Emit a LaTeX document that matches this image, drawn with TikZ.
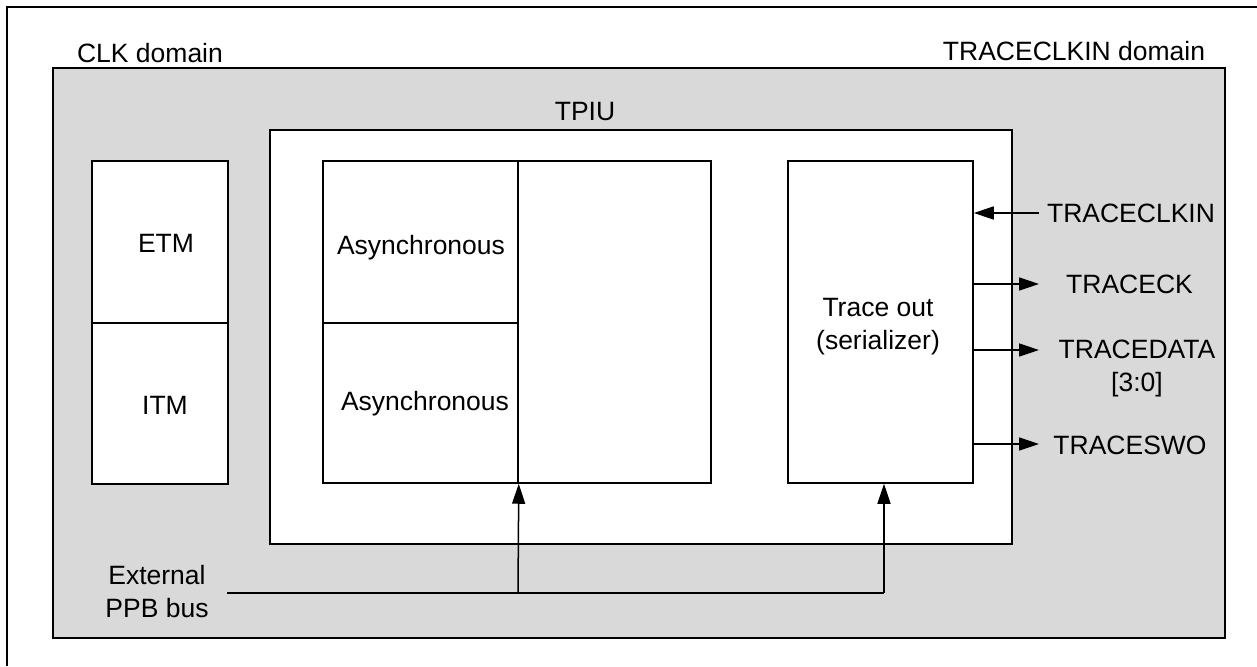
\documentclass[tikz,border=0pt]{standalone}
\usepackage{fontspec}
\setmainfont{Liberation Sans}
\usetikzlibrary{arrows.meta}
\definecolor{domgray}{HTML}{D9D9D9}
\tikzset{
  box/.style={draw, line width=1.5pt, fill=white, inner sep=0pt, minimum width=#1},
  lbl/.style={inner sep=0pt, align=center, font=\fontsize{26.5}{33}\selectfont},
  sig/.style={line width=1.5pt, -{Triangle[length=20pt,width=13pt]}},
  wire/.style={line width=1.5pt}
}
\begin{document}
\begin{tikzpicture}[x=1pt,y=-1pt]
\useasboundingbox (0,0) rectangle (1257,666);
\draw[wire] (7,666) -- (7,7) -- (1257,7);
% clock domain region
\node[box=1172pt, fill=domgray, minimum height=570pt] (dom) at (639,353) {};
\node[lbl] (clkdom) at (150,53) {CLK domain};
\node[lbl] (tcdom) at (1074,51) {TRACECLKIN domain};
% TPIU
\node[box=742pt, minimum height=414pt] (tpiu) at (641,337) {};
\node[lbl] (tpiulbl) at (585,112) {TPIU};
% ETM / ITM
\node[box=136pt, minimum height=162pt] (etm) at (160,242) {};
\node[box=136pt, minimum height=161pt] (itm) at (160,403.5) {};
\node[lbl] at (166,243) {ETM};
\node[lbl] at (165,405) {ITM};
% asynchronous blocks
\node[box=195pt, minimum height=162pt] (as1) at (420.5,242) {};
\node[box=195pt, minimum height=160pt] (as2) at (420.5,403) {};
\node[box=193pt, minimum height=322pt] (asr) at (614.5,322) {};
\node[lbl] at (421,248) {Asynchronous};
\node[lbl] at (425,404) {Asynchronous};
% trace out
\node[box=185pt, minimum height=322pt] (trace) at (880.5,322) {};
\node[lbl] at (878,327) {Trace out\\(serializer)};
% signals
\node[lbl] (tclkin) at (1131,213) {TRACECLKIN};
\node[lbl] (tck) at (1129.5,284) {TRACECK};
\node[lbl] (tdata) at (1137,368) {TRACEDATA\\{[3:0]}};
\node[lbl] (tswo) at (1130,445) {TRACESWO};
\coordinate (e1) at (1039,213);
\coordinate (e2) at (1039,284);
\coordinate (e3) at (1039,350);
\coordinate (e4) at (1039,444);
\draw[sig] (e1) -- (trace.east |- e1);
\draw[sig] (trace.east |- e2) -- (e2);
\draw[sig] (trace.east |- e3) -- (e3);
\draw[sig] (trace.east |- e4) -- (e4);
% bus
\node[lbl] (bus) at (157,592) {External\\PPB bus};
\coordinate (bs) at (227,593);
\coordinate (ba) at (518,593);
\coordinate (bb) at (884,593);
\draw[wire] (bs) -- (bb);
\draw[sig] (ba) -- (as2.south east);
\draw[sig] (bb) -- (bb |- trace.south);
\end{tikzpicture}
\end{document}
